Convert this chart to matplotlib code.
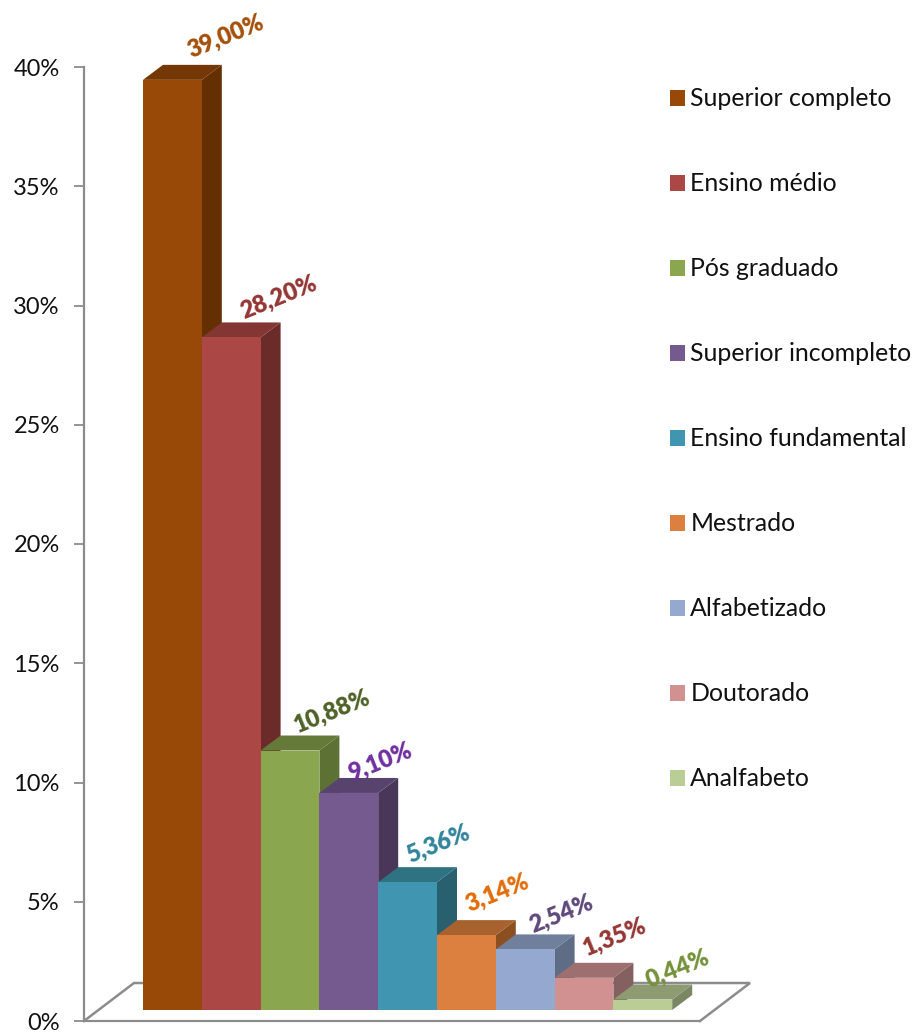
import matplotlib
matplotlib.use('Agg')
import matplotlib.pyplot as plt
from matplotlib.patches import Patch, Polygon

categories = ['Superior completo', 'Ensino médio', 'Pós graduado', 'Superior incompleto',
              'Ensino fundamental', 'Mestrado', 'Alfabetizado', 'Doutorado', 'Analfabeto']
values = [39.00, 28.20, 10.88, 9.10, 5.36, 3.14, 2.54, 1.35, 0.44]
value_labels = ['39,00%', '28,20%', '10,88%', '9,10%', '5,36%', '3,14%', '2,54%', '1,35%', '0,44%']
y_ticks = [0, 5, 10, 15, 20, 25, 30, 35, 40]
y_tick_labels = ['0%', '5%', '10%', '15%', '20%', '25%', '30%', '35%', '40%']

front_colors = ['#984807', '#AB4744', '#8AA64F', '#755A8F', '#4096B0', '#DB803E', '#95A9D0', '#D19191', '#BACD95']
top_colors = ['#753703', '#843633', '#657A38', '#58436F', '#2F7282', '#A8622E', '#6F7F9C', '#9E6F6F', '#8E9A72']
side_colors = ['#632F03', '#6B2B29', '#5E7135', '#4A3658', '#28606F', '#8C5020', '#5E6C85', '#856060', '#7B8663']
label_colors = ['#A5500A', '#943634', '#4F6228', '#7030A0', '#31859C', '#E36C09', '#5F497A', '#953735', '#76923C']
label_offsets_px = [(53, 44), (47, 40), (42, 39), (31, 31), (30, 39), (31, 42), (36, 36), (31, 41), (35, 31)]

W, H = 914, 1032
AX_L, AX_R, AX_TOP, AX_BOT = 84, 700, 67, 1021
BAR_L, BAR_W = 143, 58.8
PX_PER_PCT = (AX_BOT - AX_TOP) / 40
BASE = (AX_BOT - 1010) / PX_PER_PCT
DX, DY = 20 / BAR_W, 15 / PX_PER_PCT
FX, FY = 50 / BAR_W, 38 / PX_PER_PCT
GRAY = '#8C8C8C'

plt.rcParams['font.family'] = ['Lato', 'DejaVu Sans']
fig = plt.figure(figsize=(W / 100, H / 100), dpi=100)
ax = fig.add_axes([AX_L / W, 1 - AX_BOT / H, (AX_R - AX_L) / W, (AX_BOT - AX_TOP) / H])
x0 = (AX_L - BAR_L) / BAR_W - 0.5
x1 = (AX_R - BAR_L) / BAR_W - 0.5
ax.set_xlim(x0, x1)
ax.set_ylim(0, 40)

for s in ('top', 'right'):
    ax.spines[s].set_visible(False)
for s in ('left', 'bottom'):
    ax.spines[s].set_color(GRAY)
    ax.spines[s].set_linewidth(1.6)
ax.set_xticks([])
ax.set_yticks(y_ticks, y_tick_labels)
ax.tick_params(axis='y', length=7, width=1.3, color=GRAY, pad=10.5, labelsize=17, labelcolor='#111111')

ax.plot([x0, x0 + FX, x1 + FX, x1], [0, FY, FY, 0], color=GRAY, lw=1.8,
        clip_on=False, zorder=1, solid_joinstyle='miter')

xs = list(range(len(values)))
for i, v in zip(xs, values):
    l, r = i - 0.5, i + 0.5
    t = v + BASE
    z = 2 + i * 0.01
    ax.add_patch(Polygon([(r, BASE), (r + DX, BASE + DY), (r + DX, t + DY), (r, t)],
                         fc=side_colors[i], ec='none', clip_on=False, zorder=z))
    ax.add_patch(Polygon([(l, t), (l + DX, t + DY), (r + DX, t + DY), (r, t)],
                         fc=top_colors[i], ec='none', clip_on=False, zorder=z))
ax.bar(xs, values, width=1.0, bottom=BASE, color=front_colors, edgecolor='none', zorder=3, clip_on=False)

for i, v in enumerate(values):
    ox, oy = label_offsets_px[i]
    ax.annotate(value_labels[i], (i, v + BASE), xytext=(ox * 0.72, oy * 0.72),
                textcoords='offset points', rotation=22, rotation_mode='anchor',
                ha='center', va='center', fontsize=17, fontweight='heavy',
                color=label_colors[i], zorder=5, annotation_clip=False)

handles = [Patch(facecolor=c, edgecolor='none') for c in front_colors]
leg = fig.legend(handles, categories, loc='upper left', bbox_to_anchor=(663 / W, 1 - 80 / H),
                 bbox_transform=fig.transFigure, frameon=False, fontsize=17.9,
                 handlelength=0.6, handleheight=0.6, handletextpad=0.2,
                 labelspacing=2.494, borderpad=0.3, borderaxespad=0, labelcolor='#111111')

fig.savefig('out.png', dpi=100)
